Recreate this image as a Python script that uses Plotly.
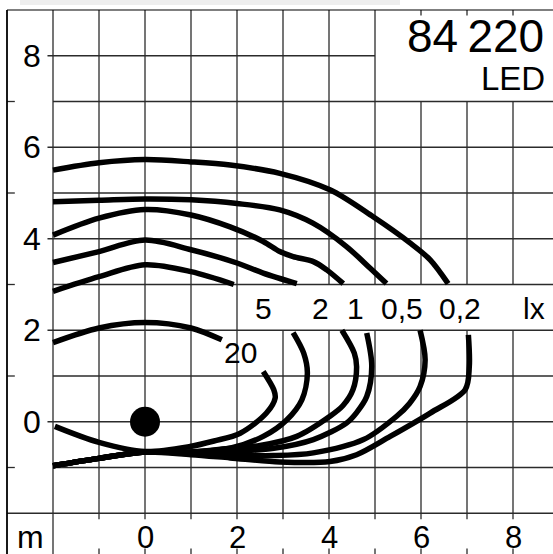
import plotly.graph_objects as go

# ---------------- data ----------------
X_TICKS = [0, 2, 4, 6, 8]
Y_TICKS = [0, 2, 4, 6, 8]
UNIT_LABEL = "m"
TITLE_NUMBER = "84\u2009220"
TITLE_TYPE = "LED"

LUX_LEVELS = ["5", "2", "1", "0,5", "0,2"]
LUX_LABEL_X = [2.57, 3.82, 4.58, 5.58, 6.85]
LUX_UNIT = "lx"
LUX20_LABEL = "20"

# isolux curves: upper branch (above the label band) and lower branch
lux02_up_x = [-2, -1, 0, 1, 1.85, 2.93, 4.02, 4.96, 5.76, 6.2, 6.59]
lux02_up_y = [5.50, 5.66, 5.73, 5.68, 5.61, 5.43, 5.07, 4.48, 3.91, 3.54, 3.02]
lux02_lo_x = [7.03, 7.05, 6.96, 6.2, 5.33, 4.6, 4.02, 2.93, 1.85, 1.0, 0, -1, -2]
lux02_lo_y = [1.9, 1.21, 0.7, 0.19, -0.32, -0.72, -0.87, -0.88, -0.79, -0.72, -0.66, -0.8, -0.96]

lux05_up_x = [-2, -1, 0, 1, 2, 2.93, 3.65, 4.38, 4.89, 5.25]
lux05_up_y = [4.81, 4.84, 4.87, 4.85, 4.77, 4.63, 4.34, 3.83, 3.36, 3.02]
lux05_lo_x = [5.98, 6.09, 5.98, 5.75, 5.47, 4.75, 3.66, 2.8, 1.85, 1.0, 0, -1, -2]
lux05_lo_y = [2.0, 1.35, 0.77, 0.4, 0.12, -0.39, -0.68, -0.74, -0.73, -0.7, -0.66, -0.8, -0.96]

lux1_up_x = [-2, -1, 0, 1, 1.85, 2.57, 2.93, 3.22, 3.66, 3.95, 4.31]
lux1_up_y = [4.08, 4.45, 4.64, 4.52, 4.26, 3.94, 3.72, 3.61, 3.5, 3.32, 3.02]
lux1_lo_x = [4.82, 4.93, 4.82, 4.6, 4.38, 3.66, 2.8, 1.85, 1.0, 0, -1, -2]
lux1_lo_y = [1.94, 1.21, 0.55, 0.2, -0.03, -0.39, -0.58, -0.65, -0.68, -0.66, -0.8, -0.96]

lux2_up_x = [-2, -1, 0, 1, 2, 2.57, 3.3]
lux2_up_y = [3.48, 3.72, 3.97, 3.76, 3.47, 3.25, 3.02]
lux2_lo_x = [4.28, 4.55, 4.6, 4.52, 4.3, 4.02, 3.3, 2.5, 1.85, 1.0, 0, -1, -2]
lux2_lo_y = [2.0, 1.5, 1.2, 0.7, 0.35, 0.12, -0.32, -0.52, -0.58, -0.66, -0.66, -0.8, -0.96]

lux5_up_x = [-2, -1, 0, 1, 1.93]
lux5_up_y = [2.85, 3.17, 3.43, 3.28, 3.0]
lux5_lo_x = [3.22, 3.45, 3.53, 3.41, 3.08, 2.57, 1.85, 1.0, 0, -1, -2]
lux5_lo_y = [1.95, 1.5, 1.06, 0.48, 0.04, -0.32, -0.58, -0.66, -0.66, -0.8, -0.96]

lux20_up_x = [-2, -1, 0, 1, 1.67]
lux20_up_y = [1.73, 2.05, 2.17, 2.05, 1.79]
lux20_lo_x = [2.57, 2.8, 2.83, 2.64, 2.07, 1.5, 0.98, 0, -1, -1.96]
lux20_lo_y = [1.1, 0.7, 0.52, 0.19, -0.25, -0.42, -0.54, -0.65, -0.45, -0.1]

LUMINAIRE_X = [0]
LUMINAIRE_Y = [0]

# ---------------- layout geometry ----------------
W, H = 553, 554
PX_X, PX_Y = 46.0, 45.75
X0 = -3 - 7 / PX_X
X1 = X0 + W / PX_X
Y1 = 9 + 10 / PX_Y
Y0 = Y1 - H / PX_Y

FONT = "Liberation Sans, Arial, Helvetica, sans-serif"
GRID_C = "#2b2b2b"

fig = go.Figure()

curves = [
    (lux02_up_x, lux02_up_y), (lux02_lo_x, lux02_lo_y),
    (lux05_up_x, lux05_up_y), (lux05_lo_x, lux05_lo_y),
    (lux1_up_x, lux1_up_y), (lux1_lo_x, lux1_lo_y),
    (lux2_up_x, lux2_up_y), (lux2_lo_x, lux2_lo_y),
    (lux5_up_x, lux5_up_y), (lux5_lo_x, lux5_lo_y),
    (lux20_up_x, lux20_up_y), (lux20_lo_x, lux20_lo_y),
]
for cx, cy in curves:
    fig.add_trace(go.Scatter(
        x=cx, y=cy, mode="lines",
        line=dict(color="black", width=5.5, shape="spline", smoothing=0.9),
        hoverinfo="skip", showlegend=False))

fig.add_trace(go.Scatter(
    x=LUMINAIRE_X, y=LUMINAIRE_Y, mode="markers",
    marker=dict(color="black", size=30), hoverinfo="skip", showlegend=False))

shapes = []


def seg(x0, y0, x1, y1, w=1.3, c=GRID_C):
    shapes.append(dict(type="line", xref="x", yref="y", x0=x0, y0=y0, x1=x1, y1=y1,
                       layer="below", line=dict(color=c, width=w)))


# vertical grid lines
for gx in range(-2, 9):
    if gx == -2:
        seg(gx, Y0, gx, 9)
        continue
    bot = -2.13
    if gx <= 2:
        seg(gx, bot, gx, 9)
    elif gx <= 5:
        seg(gx, bot, gx, 2)
        seg(gx, 3, gx, 9)
    else:
        seg(gx, bot, gx, 2)
        seg(gx, 3, gx, 7)
        seg(gx, 9, gx, 8.88)
    seg(gx, Y0, gx, Y0 + 0.12)

# horizontal grid lines
for gy in range(-2, 9):
    if gy == -2:
        seg(-3, gy, X1, gy)
    elif gy % 2:
        seg(-3, gy, -2.83, gy)
        seg(-2, gy, X1, gy)
    else:
        seg(-2.12, gy, 5 if gy == 8 else X1, gy)

# frame
seg(-3, Y0, -3, 9, w=1.8, c="black")
seg(-3, 9, X1, 9, w=1.2, c="black")

# light strip at the very top
shapes.append(dict(type="rect", xref="x", yref="y", x0=X0 + 20 / PX_X, x1=X0 + 400 / PX_X,
                   y0=Y1 - 5 / PX_Y, y1=Y1, layer="below",
                   fillcolor="#eeeeee", line=dict(width=0)))

annotations = []


def txt(x, y, s, size, xanchor="center"):
    annotations.append(dict(x=x, y=y, xref="x", yref="y", text=s, showarrow=False,
                            xanchor=xanchor, yanchor="middle",
                            font=dict(family=FONT, size=size, color="black")))


for v in Y_TICKS:
    txt(-2.45, v, str(v), 32)
for v in X_TICKS:
    txt(v, -2.52, str(v), 31)
txt(-2.5, -2.52, UNIT_LABEL, 32)

for lx, lab in zip(LUX_LABEL_X, LUX_LEVELS):
    txt(lx, 2.47, lab, 30)
txt(8.46, 2.47, LUX_UNIT, 30)
txt(2.08, 1.52, LUX20_LABEL, 30)

txt(X0 + 546 / PX_X, 8.43, TITLE_NUMBER, 46, xanchor="right")
txt(X0 + 547 / PX_X, 7.51, TITLE_TYPE, 33, xanchor="right")

fig.update_layout(
    width=W, height=H, autosize=False,
    margin=dict(l=0, r=0, t=0, b=0, pad=0),
    paper_bgcolor="white", plot_bgcolor="white",
    xaxis=dict(range=[X0, X1], visible=False, fixedrange=True),
    yaxis=dict(range=[Y0, Y1], visible=False, fixedrange=True),
    shapes=shapes, annotations=annotations, showlegend=False,
)

fig.write_html(
    "out.html",
    config={"displayModeBar": False},
    post_script="document.body.style.margin='0';document.body.style.padding='0';"
                "document.documentElement.style.overflow='hidden';",
)
